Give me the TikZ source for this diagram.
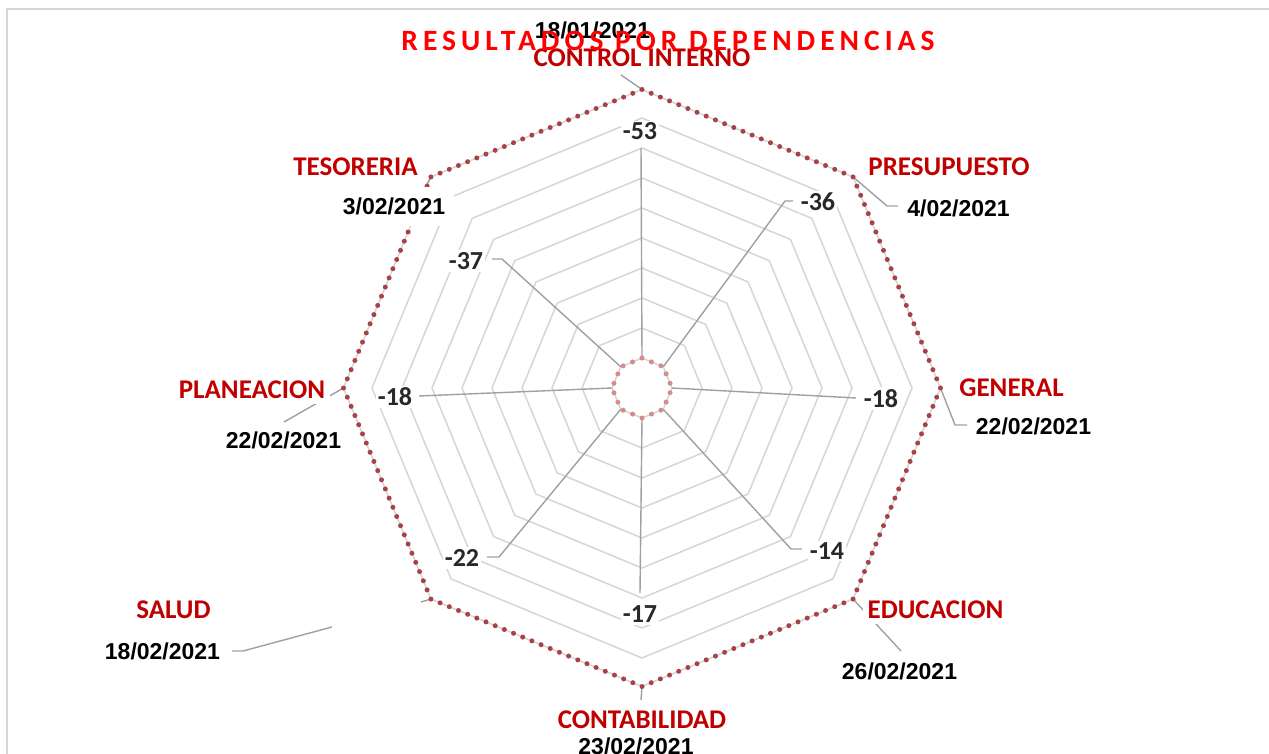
\documentclass[tikz,border=0pt]{standalone}
\usepackage{fontspec}
\setmainfont{Carlito}
\newfontfamily\datefont{Liberation Sans}
\newfontfamily\titlefont{Carlito}[LetterSpace=17]
\definecolor{ringgray}{RGB}{214,214,214}
\definecolor{leadgray}{RGB}{160,160,160}
\definecolor{dotred}{RGB}{168,66,68}
\definecolor{dotpink}{RGB}{212,140,140}
\definecolor{labred}{RGB}{192,0,0}
\definecolor{titred}{RGB}{255,0,0}
\definecolor{valgray}{RGB}{40,40,40}
\begin{document}
\begin{tikzpicture}[x=1pt,y=-1pt,
  ring/.style={draw=ringgray, line width=1.5pt, line join=miter},
  lead/.style={draw=leadgray, line width=1.4pt},
  outdot/.style={draw=dotred, line width=5pt, line cap=round, dash pattern=on 0pt off 9.933pt},
  indot/.style={draw=dotpink, line width=5pt, line cap=round, dash pattern=on 0pt off 10.2pt},
  cat/.style={font=\fontsize{27}{30}\selectfont\bfseries, text=labred, fill=white, inner sep=5pt},
  dt/.style={font=\datefont\bfseries\fontsize{23}{26}\selectfont, text=black, inner sep=1pt},
  val/.style={font=\fontsize{26}{30}\selectfont\bfseries, text=valgray, fill=white, inner sep=2pt},
  titlestyle/.style={font=\titlefont\bfseries\fontsize{29.5}{32}\selectfont, text=titred, inner sep=0pt}]
\useasboundingbox (0,0) rectangle (1269,754);
\fill[white] (0,0) rectangle (1269,754);
% chart frame
\draw[ringgray, line width=2pt] (6.5,754) -- (6.5,9) -- (1269,9);
\begin{scope}[shift={(642,388)}]
  % grid rings
  \foreach \r in {30,60,90,120,150,180,210,240,270,298.5}
    \draw[ring] (-90:\r) \foreach \a in {-45,0,...,225} { -- (\a:\r) } -- cycle;
  % inner vertices
  \coordinate (iT) at (-90:30);
  \coordinate (iTR) at (-45:30);
  \coordinate (iR) at (0:30);
  \coordinate (iBR) at (45:30);
  \coordinate (iB) at (90:30);
  \coordinate (iBL) at (135:30);
  \coordinate (iL) at (180:30);
  \coordinate (iTL) at (225:30);
  % outer vertices
  \coordinate (oT) at (-90:298.5);
  \coordinate (oTR) at (-45:298.5);
  \coordinate (oR) at (0:298.5);
  \coordinate (oBR) at (45:298.5);
  \coordinate (oB) at (90:298.5);
  \coordinate (oBL) at (135:298.5);
  \coordinate (oL) at (180:298.5);
  \coordinate (oTL) at (225:298.5);
\end{scope}
% leader end points of value labels
\coordinate (eT) at (641,148);
\coordinate (eTRa) at (785,201);
\coordinate (eTRb) at (793,201);
\coordinate (eR) at (856,398);
\coordinate (eBRa) at (791,549);
\coordinate (eBRb) at (802,549);
\coordinate (eB) at (640,593);
\coordinate (eBLa) at (499,557);
\coordinate (eBLb) at (487,557);
\coordinate (eL) at (419,396);
\coordinate (eTLa) at (502,259);
\coordinate (eTLb) at (492,259);
\draw[lead] (iT) -- (eT);
\draw[lead] (iTR) -- (eTRa) -- (eTRb);
\draw[lead] (iR) -- (eR);
\draw[lead] (iBR) -- (eBRa) -- (eBRb);
\draw[lead] (iB) -- (eB);
\draw[lead] (iBL) -- (eBLa) -- (eBLb);
\draw[lead] (iL) -- (eL);
\draw[lead] (iTL) -- (eTLa) -- (eTLb);
% leader end points of category labels
\coordinate (fT) at (621,75);
\coordinate (fTRa) at (887,206);
\coordinate (fTRb) at (898,206);
\coordinate (fRa) at (955,425);
\coordinate (fRb) at (967,425);
\coordinate (fBR) at (901,651);
\coordinate (fB) at (641,700);
\coordinate (fBLa) at (421,602);
\coordinate (fBLb) at (332,627);
\coordinate (fBLc) at (243,651);
\coordinate (fBLd) at (232,651);
\coordinate (fL) at (284,422);
\coordinate (fTL) at (415,205);
\draw[lead] (oT) -- (fT);
\draw[lead] (oTR) -- (fTRa) -- (fTRb);
\draw[lead] (oR) -- (fRa) -- (fRb);
\draw[lead] (oBR) -- (fBR);
\draw[lead] (oB) -- (fB);
\draw[lead] (oBL) -- (fBLa);
\draw[lead] (fBLb) -- (fBLc) -- (fBLd);
\draw[lead] (oL) -- (fL);
\draw[lead] (oTL) -- (fTL);
% data series
\draw[indot] (iT) -- (iTR) -- (iR) -- (iBR) -- (iB) -- (iBL) -- (iL) -- (iTL) -- cycle;
\draw[outdot] (oT) -- (oTR) -- (oR) -- (oBR) -- (oB) -- (oBL) -- (oL) -- (oTL) -- cycle;
% value labels
\node[val] (vT) at (640,131.5) {-53};
\node[val] (vTR) at (818,202) {-36};
\node[val] (vR) at (881,398.5) {-18};
\node[val] (vBR) at (827,551) {-14};
\node[val] (vB) at (640,614.5) {-17};
\node[val] (vBL) at (462,558) {-22};
\node[val] (vL) at (395,397) {-18};
\node[val] (vTL) at (466,261) {-37};
% category labels and dates
\node[dt] (dT) at (592.5,30) {18/01/2021};
\node[cat] (cT) at (642,58) {CONTROL INTERNO};
\node[cat] (cTR) at (949,167) {PRESUPUESTO};
\node[dt] (dTR) at (958.5,208) {4/02/2021};
\node[cat] (cR) at (1011.5,388) {GENERAL};
\node[dt] (dR) at (1033.5,426) {22/02/2021};
\node[cat] (cBR) at (935.5,610) {EDUCACION};
\node[dt] (dBR) at (899.5,671) {26/02/2021};
\node[cat] (cB) at (642,720) {CONTABILIDAD};
\node[dt] (dB) at (636,746) {23/02/2021};
\node[cat] (cBL) at (173.5,610) {SALUD};
\node[dt] (dBL) at (162.5,651) {18/02/2021};
\node[cat] (cL) at (252,390) {PLANEACION};
\node[dt] (dL) at (283.5,440) {22/02/2021};
\node[cat] (cTL) at (355.5,167) {TESORERIA};
\node[dt, fill=white, minimum width=119pt, minimum height=39pt] (dTL) at (394,206.5) {3/02/2021};
% title
\node[titlestyle] (title) at (668,41) {RESULTADOS POR DEPENDENCIAS};
\end{tikzpicture}
\end{document}
